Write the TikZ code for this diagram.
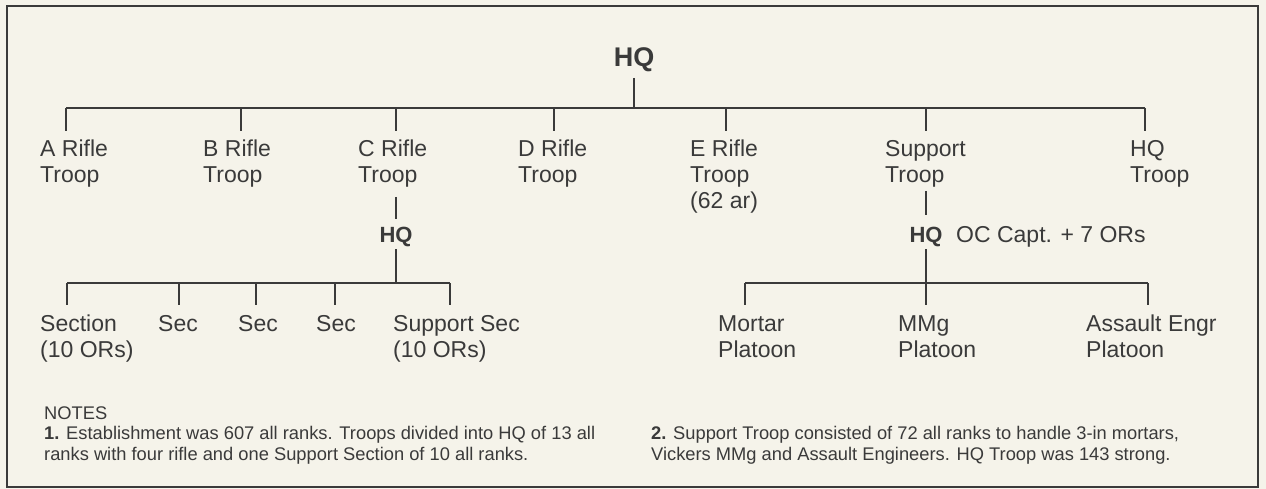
\documentclass[tikz,border=0pt]{standalone}
\usepackage{fontspec}
\setmainfont{Liberation Sans}
\definecolor{paper}{HTML}{F5F3EA}
\definecolor{ink}{HTML}{3A3A3A}
\begin{document}
\begin{tikzpicture}[x=1pt,y=-1pt,
  lbl/.style={anchor=base west,inner sep=0pt,align=left,text=ink,font=\fontsize{23}{26}\selectfont},
  hq/.style={anchor=base,inner sep=0pt,text=ink,font=\fontsize{22}{26}\selectfont\bfseries},
  note/.style={anchor=base west,inner sep=0pt,align=left,text=ink,font=\fontsize{18.3}{20.5}\selectfont},
  wire/.style={draw=ink,line width=1.8pt}]
\fill[paper] (0,0) rectangle (1266,489);
\useasboundingbox (0,0) rectangle (1266,489);
\draw[ink,line width=2pt] (7,6) rectangle (1258,487);

% top level (multi-line nodes are placed by the baseline of their last line)
\node[hq,font=\fontsize{27}{30}\selectfont\bfseries] (root) at (634,67) {HQ};
\node[lbl] (A) at (40,183) {A Rifle\\Troop};
\node[lbl] (B) at (203,183) {B Rifle\\Troop};
\node[lbl] (C) at (358,183) {C Rifle\\Troop};
\node[lbl] (D) at (518,183) {D Rifle\\Troop};
\node[lbl] (E) at (690,209) {E Rifle\\Troop\\(62 ar)};
\node[lbl] (S) at (885,183) {Support\\Troop};
\node[lbl] (H) at (1130,183) {HQ\\Troop};

% second level
\node[hq] (chq) at (396,243) {HQ};
\node[hq] (shq) at (926,243) {HQ};
\node[lbl] (soc) at (956,243) {OC Capt. + 7 ORs};

% sections
\node[lbl] (s1) at (40,357) {Section\\(10 ORs)};
\node[lbl] (s2) at (158,331) {Sec};
\node[lbl] (s3) at (238,331) {Sec};
\node[lbl] (s4) at (316,331) {Sec};
\node[lbl] (s5) at (393,357) {Support Sec\\(10 ORs)};

% platoons
\node[lbl] (p1) at (718,357) {Mortar\\Platoon};
\node[lbl] (p2) at (898,357) {MMg\\Platoon};
\node[lbl] (p3) at (1086,357) {Assault Engr\\Platoon};

% notes
\node[note] (nh) at (44,419) {NOTES};
\node[note] (n1) at (44,460) {\textbf{1.} Establishment was 607 all ranks. Troops divided into HQ of 13 all\\ranks with four rifle and one Support Section of 10 all ranks.};
\node[note] (n2) at (651,460) {\textbf{2.} Support Troop consisted of 72 all ranks to handle 3-in mortars,\\Vickers MMg and Assault Engineers. HQ Troop was 143 strong.};

% connector coordinates
\coordinate (r0) at (634,78);
\coordinate (r1) at (634,108);
\foreach \n/\x in {a/66,b/241,c/396,d/554,e/726,s/926,h/1145}{
  \coordinate (\n t) at (\x,108);
  \coordinate (\n b) at (\x,131);
}
\coordinate (c0) at (396,197);
\coordinate (c1) at (396,219);
\coordinate (c2) at (396,249);
\coordinate (c3) at (396,283);
\foreach \n/\x in {1/67,2/179,3/256,4/335,5/450}{
  \coordinate (k\n t) at (\x,283);
  \coordinate (k\n b) at (\x,305);
}
\coordinate (u0) at (926,191);
\coordinate (u1) at (926,215);
\coordinate (u2) at (926,249);
\coordinate (u3) at (926,283);
\foreach \n/\x in {1/745,2/926,3/1148}{
  \coordinate (q\n t) at (\x,283);
  \coordinate (q\n b) at (\x,305);
}

\draw[wire] (r0) -- (r1);
\draw[wire] (at) -- (ht);
\foreach \n in {a,b,c,d,e,s,h}{ \draw[wire] (\n t) -- (\n b); }
\draw[wire] (c0) -- (c1);
\draw[wire] (c2) -- (c3);
\draw[wire] (k1t) -- (k5t);
\foreach \n in {1,...,5}{ \draw[wire] (k\n t) -- (k\n b); }
\draw[wire] (u0) -- (u1);
\draw[wire] (u2) -- (u3);
\draw[wire] (q1t) -- (q3t);
\foreach \n in {1,2,3}{ \draw[wire] (q\n t) -- (q\n b); }
\end{tikzpicture}
\end{document}
